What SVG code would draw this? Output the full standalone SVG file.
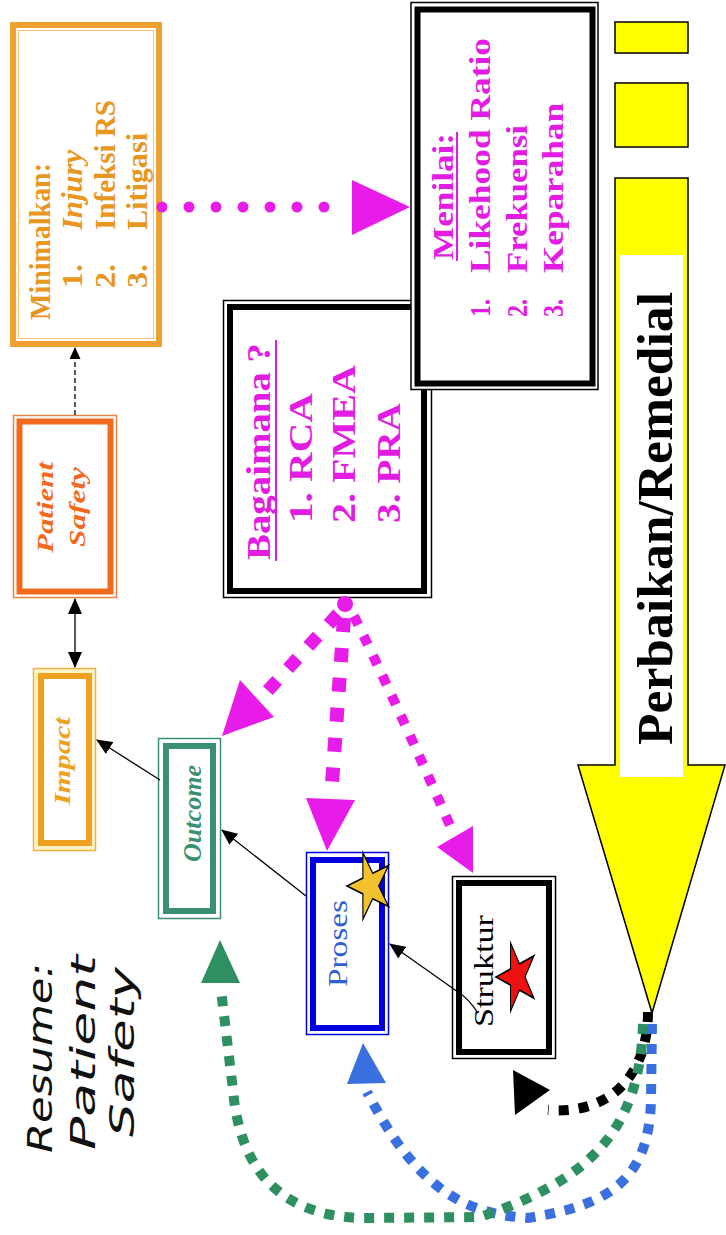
<svg xmlns="http://www.w3.org/2000/svg" width="726" height="1235" viewBox="0 0 726 1235">
  <defs>
    <style>
      .serif { font-family: "Liberation Serif", "Times New Roman", serif; }
      .sans { font-family: "DejaVu Sans", "Liberation Sans", sans-serif; }
      .thick { fill: #fff; stroke-width: 6; }
      .org { fill: #E8961E; font-weight: bold; }
      .mag { fill: #E21CE2; font-weight: bold; }
      .conn { fill: none; stroke: #000; stroke-width: 1.3; }
      .mdash { fill: none; stroke: #E81CE8; }
      .mhead { fill: #E81CE8; }
    </style>
    <marker id="ah" markerUnits="userSpaceOnUse" markerWidth="16" markerHeight="14" viewBox="0 0 16 14" refX="15" refY="7" orient="auto-start-reverse">
      <path d="M0,0 L16,7 L0,14 z" fill="#000"/>
    </marker>
    <marker id="ahs" markerUnits="userSpaceOnUse" markerWidth="12" markerHeight="11" viewBox="0 0 12 11" refX="11" refY="5.5" orient="auto">
      <path d="M0,0 L12,5.5 L0,11 z" fill="#000"/>
    </marker>
  </defs>

  <rect width="726" height="1235" fill="#fff"/>

  <!-- Remedial arrow and yellow bars -->
  <g id="remedial">
    <rect x="615" y="22" width="73" height="31" fill="#FFFF00" stroke="#000" stroke-width="1.5"/>
    <rect x="615" y="83" width="73" height="64" fill="#FFFF00" stroke="#000" stroke-width="1.5"/>
    <polygon points="615,178 688,178 688,765 725,765 652,1013 578,765 615,765" fill="#FFFF00" stroke="#000" stroke-width="1.5"/>
    <rect x="620" y="255" width="63" height="522" fill="#fff"/>
    <text class="serif" font-weight="bold" font-size="50" fill="#000" transform="translate(672,745) rotate(-90)" textLength="453" lengthAdjust="spacingAndGlyphs">Perbaikan/Remedial</text>
  </g>

  <!-- Minimalkan -->
  <g id="minimalkan">
    <rect x="13" y="25" width="146" height="319" fill="#fff" stroke="#F0A030" stroke-width="6"/>
    <rect x="18.5" y="30.5" width="135" height="308" fill="none" stroke="#F5C070" stroke-width="1"/>
    <g class="serif org" font-size="30">
      <text transform="translate(50,320) rotate(-90)" textLength="157" lengthAdjust="spacingAndGlyphs">Minimalkan:</text>
      <text transform="translate(82,288) rotate(-90)" textLength="24" lengthAdjust="spacingAndGlyphs">1.</text>
      <text transform="translate(82,230) rotate(-90)" textLength="80" lengthAdjust="spacingAndGlyphs" font-style="italic">Injury</text>
      <text transform="translate(115,288) rotate(-90)" textLength="24" lengthAdjust="spacingAndGlyphs">2.</text>
      <text transform="translate(115,230) rotate(-90)" textLength="130" lengthAdjust="spacingAndGlyphs">Infeksi RS</text>
      <text transform="translate(147,288) rotate(-90)" textLength="24" lengthAdjust="spacingAndGlyphs">3.</text>
      <text transform="translate(147,230) rotate(-90)" textLength="97" lengthAdjust="spacingAndGlyphs">Litigasi</text>
    </g>
  </g>

  <!-- Bagaimana -->
  <g id="bagaimana">
    <rect x="223.5" y="300.5" width="208" height="297" fill="#fff" stroke="#000" stroke-width="1.5"/>
    <rect x="230" y="307" width="194" height="284" class="thick" stroke="#000"/>
    <g class="serif mag" font-size="34">
      <text transform="translate(270,560) rotate(-90)" textLength="217" lengthAdjust="spacingAndGlyphs">Bagaimana ?</text>
      <text transform="translate(312,523) rotate(-90)" textLength="130" lengthAdjust="spacingAndGlyphs">1. RCA</text>
      <text transform="translate(355,523) rotate(-90)" textLength="158" lengthAdjust="spacingAndGlyphs">2. FMEA</text>
      <text transform="translate(400,523) rotate(-90)" textLength="120" lengthAdjust="spacingAndGlyphs">3. PRA</text>
    </g>
    <line x1="276" y1="561" x2="276" y2="340" stroke="#E21CE2" stroke-width="2"/>
  </g>

  <!-- Menilai -->
  <g id="menilai">
    <rect x="411" y="2.5" width="187" height="387" fill="#fff" stroke="#000" stroke-width="1.5"/>
    <rect x="417.5" y="9.5" width="175" height="374" class="thick" stroke="#000"/>
    <g class="serif mag" font-size="30">
      <text transform="translate(453,260) rotate(-90)" textLength="127" lengthAdjust="spacingAndGlyphs">Menilai:</text>
      <text transform="translate(490,317) rotate(-90)" textLength="18" lengthAdjust="spacingAndGlyphs">1.</text>
      <text transform="translate(490,273) rotate(-90)" textLength="235" lengthAdjust="spacingAndGlyphs">Likehood Ratio</text>
      <text transform="translate(527,317) rotate(-90)" textLength="18" lengthAdjust="spacingAndGlyphs">2.</text>
      <text transform="translate(527,273) rotate(-90)" textLength="148" lengthAdjust="spacingAndGlyphs">Frekuensi</text>
      <text transform="translate(563,317) rotate(-90)" textLength="18" lengthAdjust="spacingAndGlyphs">3.</text>
      <text transform="translate(563,273) rotate(-90)" textLength="170" lengthAdjust="spacingAndGlyphs">Keparahan</text>
    </g>
    <line x1="457" y1="261" x2="457" y2="132" stroke="#E21CE2" stroke-width="2"/>
  </g>

  <!-- Patient Safety -->
  <g id="patient-safety">
    <rect x="13.5" y="415.5" width="103" height="182" fill="#fff" stroke="#F08040" stroke-width="1.5"/>
    <rect x="19.5" y="421.5" width="91" height="170" class="thick" stroke="#F06A1E" stroke-width="5"/>
    <g class="serif" font-weight="bold" font-style="italic" font-size="24" fill="#F06A1E">
      <text transform="translate(53,553) rotate(-90)" textLength="91" lengthAdjust="spacingAndGlyphs">Patient</text>
      <text transform="translate(85,547) rotate(-90)" textLength="80" lengthAdjust="spacingAndGlyphs">Safety</text>
    </g>
  </g>

  <!-- Impact -->
  <g id="impact">
    <rect x="33.5" y="668.5" width="62" height="182" fill="#FFF4C8" stroke="#F5B040" stroke-width="1.5"/>
    <rect x="41" y="676" width="48" height="167" class="thick" stroke="#F0A020"/>
    <text class="serif" font-weight="bold" font-style="italic" font-size="23" fill="#F0A020" transform="translate(70,805) rotate(-90)" textLength="88" lengthAdjust="spacingAndGlyphs">Impact</text>
  </g>

  <!-- Outcome -->
  <g id="outcome">
    <rect x="158.5" y="738.5" width="62" height="180" fill="#fff" stroke="#3A9070" stroke-width="1.5"/>
    <rect x="166" y="746" width="47" height="165" class="thick" stroke="#3A9070"/>
    <text class="serif" font-weight="bold" font-style="italic" font-size="26" fill="#3A9070" transform="translate(201,862) rotate(-90)" textLength="97" lengthAdjust="spacingAndGlyphs">Outcome</text>
  </g>

  <!-- Proses -->
  <g id="proses">
    <rect x="306.5" y="852.5" width="82" height="182" fill="#fff" stroke="#0000DD" stroke-width="1.5"/>
    <rect x="313" y="860" width="69" height="168" class="thick" stroke="#0000DD" stroke-width="5"/>
    <text class="serif" font-size="28" fill="#3060D0" transform="translate(347,987) rotate(-90)" textLength="87" lengthAdjust="spacingAndGlyphs">Proses</text>
    <polygon transform="translate(370,886) scale(23,35)" points="-1,0 -0.309,-0.224 -0.309,-0.951 0.118,-0.363 0.809,-0.588 0.382,0 0.809,0.588 0.118,0.363 -0.309,0.951 -0.309,0.224" fill="#F2C12E" stroke="#000" stroke-width="0.05"/>
  </g>

  <!-- Struktur -->
  <g id="struktur">
    <rect x="452.5" y="876.5" width="103" height="182" fill="#fff" stroke="#000" stroke-width="1.5"/>
    <rect x="459" y="883" width="90" height="169" class="thick" stroke="#000"/>
    <text class="serif" font-size="27" fill="#000" transform="translate(493,1027) rotate(-90)" textLength="112" lengthAdjust="spacingAndGlyphs">Struktur</text>
    <polygon transform="translate(517,977) scale(21,36)" points="-1,0 -0.309,-0.224 -0.309,-0.951 0.118,-0.363 0.809,-0.588 0.382,0 0.809,0.588 0.118,0.363 -0.309,0.951 -0.309,0.224" fill="#EE1111" stroke="#000" stroke-width="0.05"/>
  </g>

  <!-- Title -->
  <g id="title" class="sans" font-style="italic" font-size="33" fill="#111">
    <text transform="translate(52,1153) rotate(-90)" textLength="190" lengthAdjust="spacingAndGlyphs">Resume:</text>
    <text transform="translate(95,1150) rotate(-90)" textLength="195" lengthAdjust="spacingAndGlyphs">Patient</text>
    <text transform="translate(134,1137) rotate(-90)" textLength="170" lengthAdjust="spacingAndGlyphs">Safety</text>
  </g>

  <!-- Connectors -->
  <g id="connectors">
    <!-- Patient Safety to Minimalkan -->
    <line x1="75" y1="415" x2="75" y2="348" class="conn" stroke-dasharray="5 3" marker-end="url(#ahs)"/>
    <!-- Patient Safety and Impact -->
    <line x1="75" y1="599" x2="75" y2="667" class="conn" stroke-width="1.6" marker-start="url(#ah)" marker-end="url(#ah)"/>
    <!-- Outcome to Impact -->
    <line x1="160" y1="780" x2="97" y2="740" class="conn" marker-end="url(#ah)"/>
    <!-- Proses to Outcome -->
    <line x1="306" y1="896" x2="222" y2="830" class="conn" marker-end="url(#ah)"/>
    <!-- Struktur to Proses -->
    <path d="M478,1013 Q468,998 458,992 L390,944" class="conn" marker-end="url(#ah)"/>

    <!-- Minimalkan to Menilai (magenta dots) -->
    <g fill="#E81CE8">
      <circle cx="162" cy="207" r="5.5"/>
      <circle cx="189" cy="207" r="5.5"/>
      <circle cx="216" cy="207" r="5.5"/>
      <circle cx="243" cy="207" r="5.5"/>
      <circle cx="270" cy="207" r="5.5"/>
      <circle cx="297" cy="207" r="5.5"/>
      <circle cx="324" cy="207" r="5.5"/>
      <polygon points="352,180 352,235 410,207"/>
    </g>

    <!-- Bagaimana to Outcome / Proses / Struktur -->
    <circle cx="345" cy="604" r="8" fill="#E81CE8"/>
    <path d="M338,614 L262,697" class="mdash" stroke-width="13" stroke-dasharray="14 16"/>
    <polygon points="240,680 274,717 222,736" class="mhead"/>
    <path d="M344,618 L331,797" class="mdash" stroke-width="14" stroke-dasharray="14 16"/>
    <polygon points="306,798 355,800 327,851" class="mhead"/>
    <path d="M354,616 Q395,700 452,830" class="mdash" stroke-width="10" stroke-dasharray="10 12"/>
    <polygon points="437,847 473,826 473,873" class="mhead"/>

    <!-- Feedback loops from Perbaikan/Remedial -->
    <path d="M648,1012 C648,1070 615,1115 548,1110" fill="none" stroke="#000" stroke-width="10" stroke-dasharray="10 10"/>
    <polygon points="513,1070 515,1115 550,1090" fill="#000"/>

    <path d="M652,1024 L651,1100 C649,1180 610,1205 528,1218 C470,1214 420,1195 367,1092" fill="none" stroke="#3A6FE0" stroke-width="10" stroke-dasharray="10 10"/>
    <polygon points="363,1043 347,1084 386,1083" fill="#3A6FE0"/>

    <path d="M643,1024 C640,1130 590,1180 480,1217 L360,1218 C280,1215 240,1170 233,1090 L221,990" fill="none" stroke="#2E9060" stroke-width="10" stroke-dasharray="10 10"/>
    <polygon points="220,940 201,983 240,983" fill="#2E9060"/>
  </g>
</svg>
